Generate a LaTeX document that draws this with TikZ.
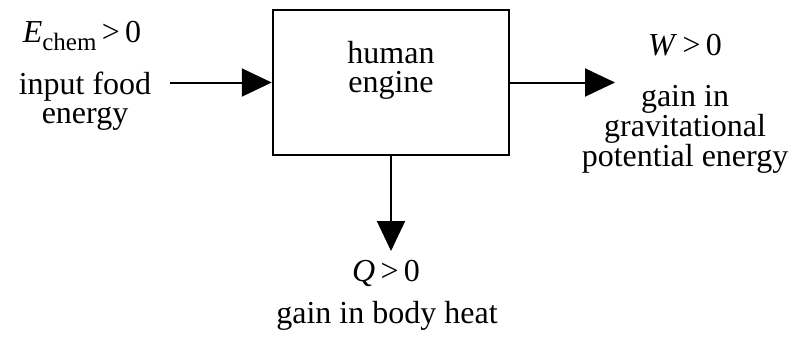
\documentclass[tikz,border=0pt]{standalone}
\usepackage{fontspec}
\setmainfont{Liberation Serif}
\usetikzlibrary{arrows.meta}
\tikzset{
  lbl/.style={inner sep=0pt, align=center, font=\fontsize{32}{29}\selectfont},
  flow/.style={line width=2pt, -{Triangle[length=30pt,width=28pt]}},
  enginebox/.style={draw, line width=2.5pt, minimum width=236pt, minimum height=145pt, inner sep=0pt}
}
\begin{document}
\begin{tikzpicture}[x=1pt,y=-1pt]
\useasboundingbox (0,0) rectangle (811,337);
\node[enginebox] (box) at (391,82.5) {};
\node[lbl] (boxlabel) at (391,70) {human\\engine};
\coordinate (in) at (170,82.5);
\coordinate (outW) at (615,82.5);
\coordinate (outQ) at (391,251);
\draw[flow] (in) -- (box.west);
\draw[flow] (box.east) -- (outW);
\draw[flow] (box.south) -- (outQ);
\node[lbl] (echem) at (82,36) {\textit{E}\raisebox{-0.22em}{\fontsize{25}{25}\selectfont chem}\,>\,0};
\node[lbl] (food) at (85,101) {input food\\energy};
\node[lbl] (wlbl) at (685,45) {\textit{W}\,>\,0};
\node[lbl] (grav) at (685,129) {gain in\\gravitational\\potential energy};
\node[lbl] (qlbl) at (386,273) {\textit{Q}\,>\,0};
\node[lbl] (heat) at (387,316) {gain in body heat};
\end{tikzpicture}
\end{document}
